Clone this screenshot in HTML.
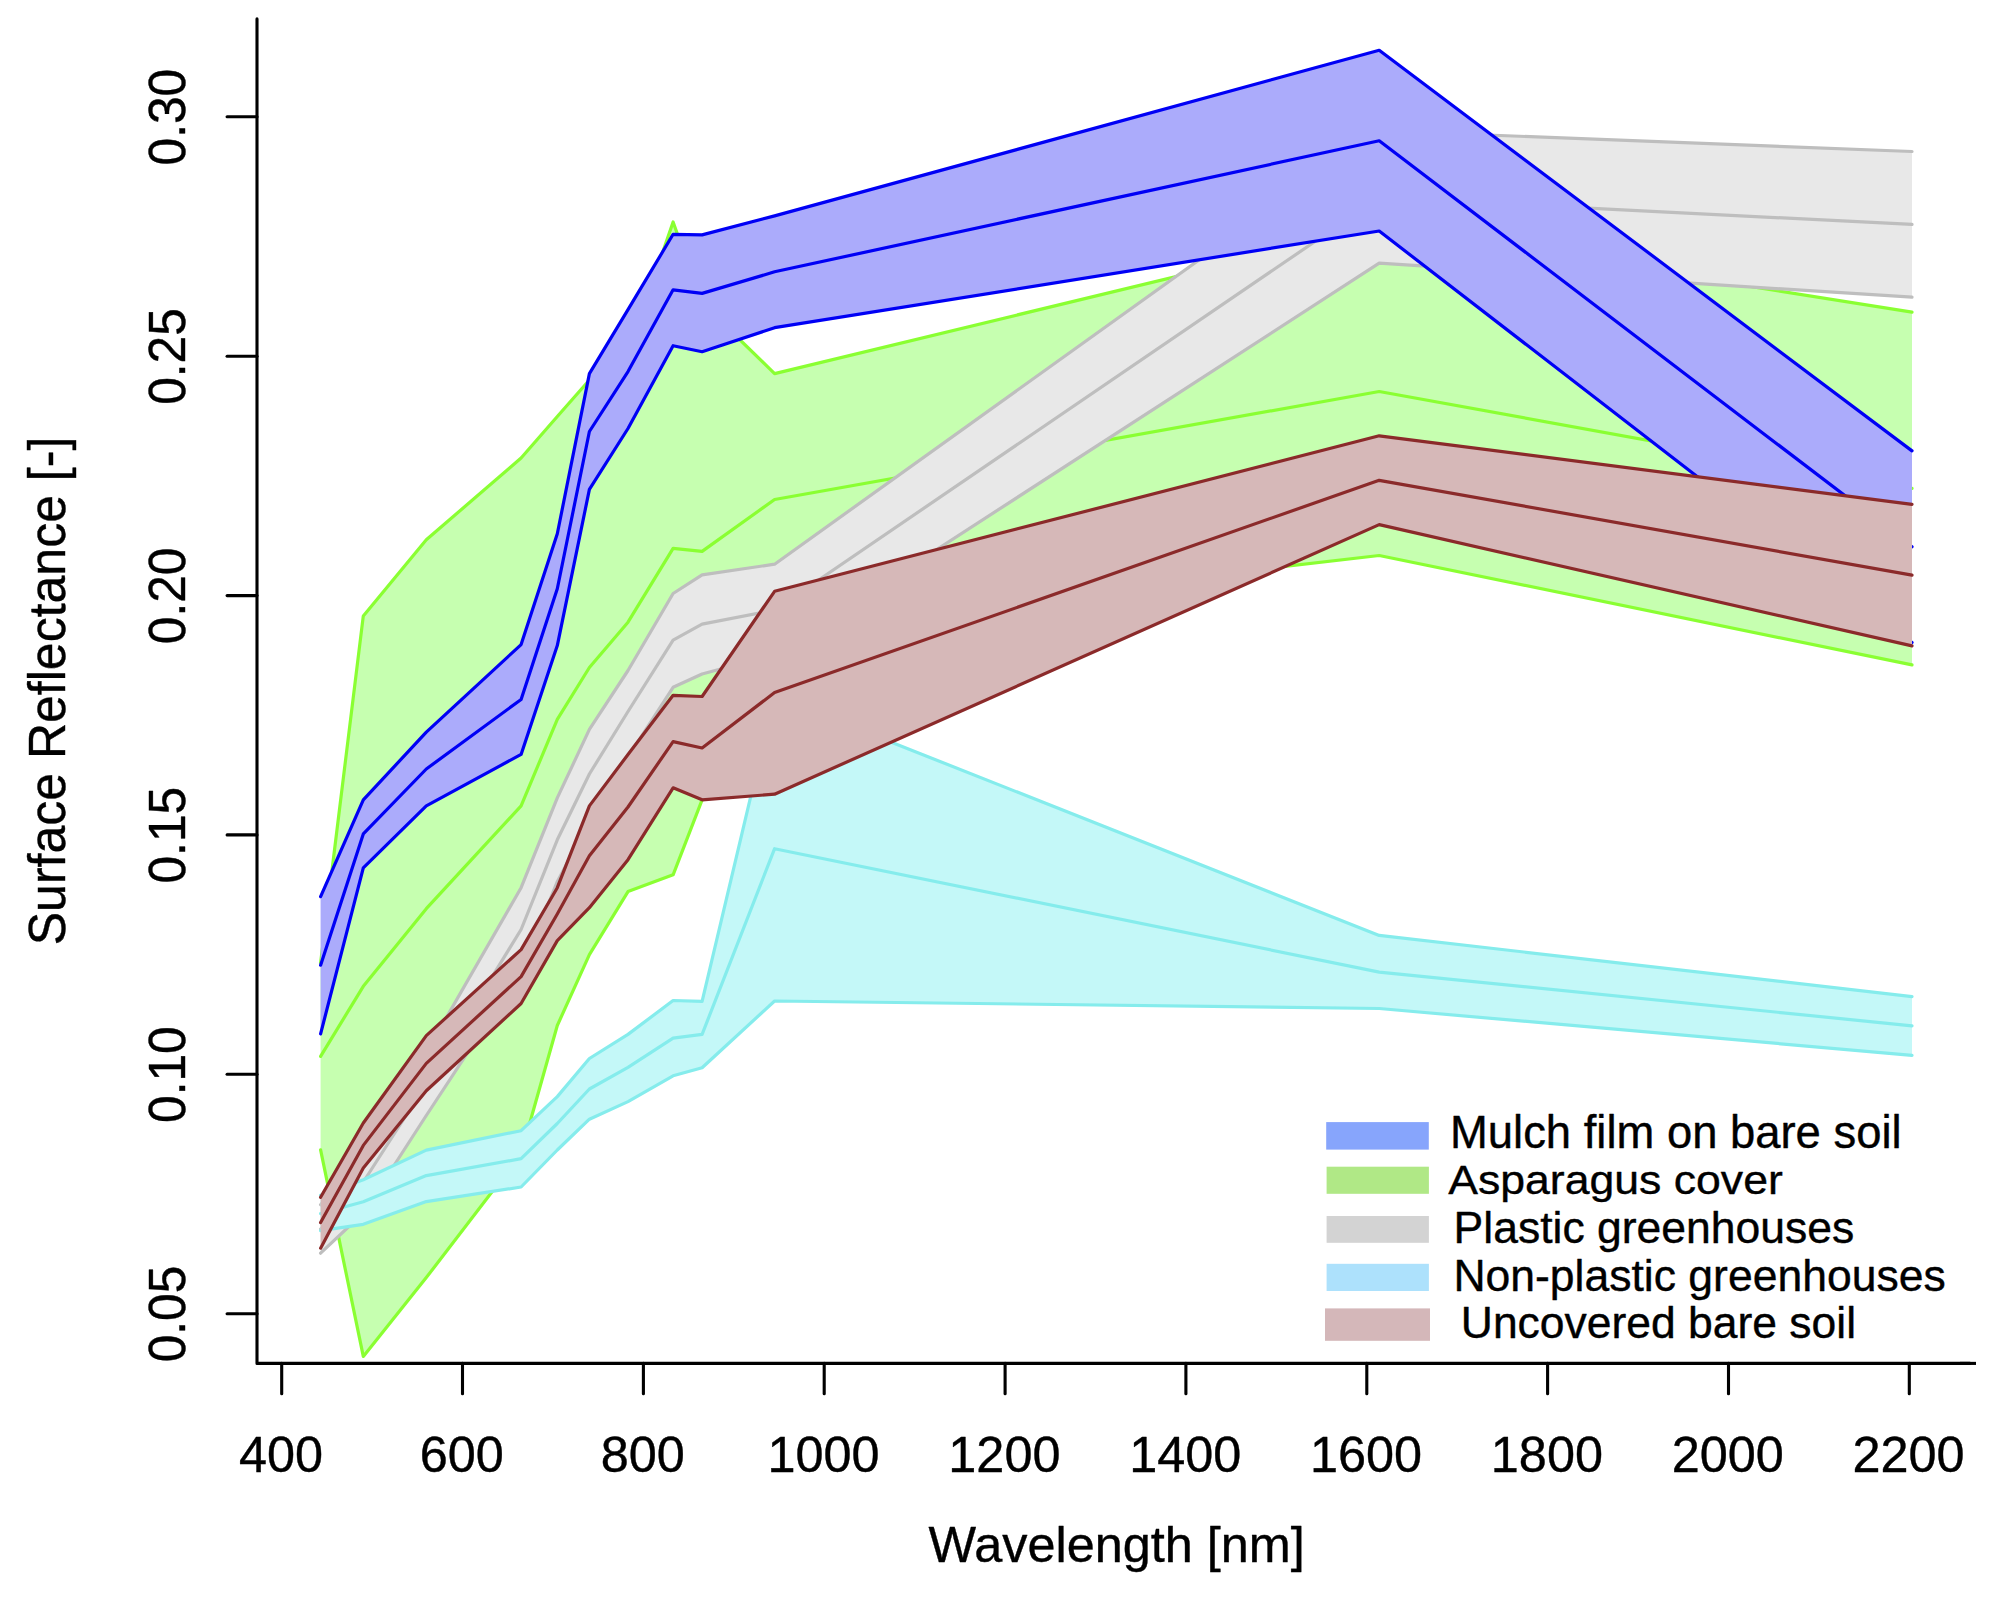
<!DOCTYPE html>
<html lang="en">
<head>
<meta charset="utf-8">
<title>Surface reflectance spectra</title>
<style>
html,body{margin:0;padding:0;background:#fff;}
body{width:2004px;height:1604px;overflow:hidden;}
svg{display:block;}
text{font-family:"Liberation Sans",Arial,Helvetica,sans-serif;fill:#000;stroke:#000;stroke-width:0.4px;stroke-linejoin:round;}
.xt{font-size:50.4px;}
.yt{font-size:49.7px;}
.xl{font-size:50.4px;}
.yl{font-size:50.0px;}
.ln{fill:none;stroke-linecap:round;stroke-linejoin:round;}
.axl{fill:none;stroke:#000;stroke-width:3.1;stroke-linecap:round;stroke-linejoin:round;}
</style>
</head>
<body>
<svg width="2004" height="1604" viewBox="0 0 2004 1604">
<rect x="0" y="0" width="2004" height="1604" fill="#ffffff"/>

<g id="green">
<polygon points="320.6,962.9 363.3,615.9 426.3,539.8 521.1,458.0 557.3,416.5 589.4,380.0 628.0,353.0 673.1,222.0 702.1,303.0 774.6,373.6 1379.2,227.5 1912.0,312.2 1912.0,664.9 1379.2,555.5 774.6,626.0 702.1,799.8 673.1,874.8 628.0,891.6 589.4,954.6 557.3,1025.5 521.1,1153.8 426.3,1277.6 363.3,1356.4 320.6,1149.9" fill="#C6FFB0" stroke="none"/>
<polyline class="ln" points="320.6,962.9 363.3,615.9 426.3,539.8 521.1,458.0 557.3,416.5 589.4,380.0 628.0,353.0 673.1,222.0 702.1,303.0 774.6,373.6 1379.2,227.5 1912.0,312.2" stroke="#8AFF32" stroke-width="3.2"/>
<polyline class="ln" points="320.6,1056.4 363.3,986.3 426.3,908.7 521.1,805.9 557.3,719.4 589.4,667.5 628.0,622.2 673.1,548.3 702.1,551.4 774.6,499.5 1379.2,391.5 1912.0,488.4" stroke="#8AFF32" stroke-width="3.2"/>
<polyline class="ln" points="320.6,1149.9 363.3,1356.4 426.3,1277.6 521.1,1153.8 557.3,1025.5 589.4,954.6 628.0,891.6 673.1,874.8 702.1,799.8 774.6,626.0 1379.2,555.5 1912.0,664.9" stroke="#8AFF32" stroke-width="3.2"/>
</g>
<g id="grey">
<polygon points="320.6,1204.8 363.3,1151.0 426.3,1052.4 521.1,887.7 557.3,797.9 589.4,729.4 628.0,670.5 673.1,593.5 702.1,574.8 774.6,564.2 1379.2,130.8 1912.0,151.5 1912.0,297.2 1379.2,263.2 774.6,654.5 702.1,674.0 673.1,687.3 628.0,757.0 589.4,821.0 557.3,881.7 521.1,971.3 426.3,1115.5 363.3,1213.0 320.6,1253.2" fill="#E8E8E8" stroke="none"/>
<polyline class="ln" points="320.6,1204.8 363.3,1151.0 426.3,1052.4 521.1,887.7 557.3,797.9 589.4,729.4 628.0,670.5 673.1,593.5 702.1,574.8 774.6,564.2 1379.2,130.8 1912.0,151.5" stroke="#BEBEBE" stroke-width="3.2"/>
<polyline class="ln" points="320.6,1229.0 363.3,1182.0 426.3,1084.0 521.1,929.5 557.3,839.8 589.4,774.0 628.0,711.5 673.1,640.1 702.1,624.1 774.6,610.0 1379.2,197.7 1912.0,224.4" stroke="#BEBEBE" stroke-width="3.2"/>
<polyline class="ln" points="320.6,1253.2 363.3,1213.0 426.3,1115.5 521.1,971.3 557.3,881.7 589.4,821.0 628.0,757.0 673.1,687.3 702.1,674.0 774.6,654.5 1379.2,263.2 1912.0,297.2" stroke="#BEBEBE" stroke-width="3.2"/>
</g>
<g id="blue">
<polygon points="320.6,896.7 363.3,799.9 426.3,732.1 521.1,644.6 557.3,533.8 589.4,373.6 628.0,309.7 673.1,234.3 702.1,234.9 774.6,215.9 1379.2,50.3 1912.0,450.9 1912.0,642.5 1379.2,231.0 774.6,327.7 702.1,351.7 673.1,345.7 628.0,428.5 589.4,489.4 557.3,645.6 521.1,754.4 426.3,805.9 363.3,867.8 320.6,1033.9" fill="#ABABFB" stroke="none"/>
<polyline class="ln" points="320.6,896.7 363.3,799.9 426.3,732.1 521.1,644.6 557.3,533.8 589.4,373.6 628.0,309.7 673.1,234.3 702.1,234.9 774.6,215.9 1379.2,50.3 1912.0,450.9" stroke="#0000F5" stroke-width="3.2"/>
<polyline class="ln" points="320.6,965.2 363.3,833.9 426.3,769.0 521.1,699.5 557.3,588.7 589.4,431.5 628.0,371.6 673.1,289.8 702.1,293.4 774.6,271.8 1379.2,140.8 1912.0,546.7" stroke="#0000F5" stroke-width="3.2"/>
<polyline class="ln" points="320.6,1033.9 363.3,867.8 426.3,805.9 521.1,754.4 557.3,645.6 589.4,489.4 628.0,428.5 673.1,345.7 702.1,351.7 774.6,327.7 1379.2,231.0 1912.0,642.5" stroke="#0000F5" stroke-width="3.2"/>
</g>
<g id="cyan">
<polygon points="320.6,1195.3 363.3,1179.8 426.3,1150.1 521.1,1130.7 557.3,1096.6 589.4,1058.5 628.0,1034.4 673.1,1000.5 702.1,1001.4 774.6,696.0 1379.2,935.4 1912.0,996.6 1912.0,1055.3 1379.2,1008.5 774.6,1001.0 702.1,1067.7 673.1,1075.8 628.0,1101.6 589.4,1119.2 557.3,1150.0 521.1,1187.0 426.3,1201.6 363.3,1224.3 320.6,1230.7" fill="#C4F8F8" stroke="none"/>
<polyline class="ln" points="320.6,1195.3 363.3,1179.8 426.3,1150.1 521.1,1130.7 557.3,1096.6 589.4,1058.5 628.0,1034.4 673.1,1000.5 702.1,1001.4 774.6,696.0 1379.2,935.4 1912.0,996.6" stroke="#85ECEC" stroke-width="3.2"/>
<polyline class="ln" points="320.6,1213.5 363.3,1201.8 426.3,1175.6 521.1,1158.7 557.3,1123.5 589.4,1089.0 628.0,1067.3 673.1,1038.1 702.1,1034.4 774.6,848.7 1379.2,972.1 1912.0,1025.8" stroke="#85ECEC" stroke-width="3.2"/>
<polyline class="ln" points="320.6,1230.7 363.3,1224.3 426.3,1201.6 521.1,1187.0 557.3,1150.0 589.4,1119.2 628.0,1101.6 673.1,1075.8 702.1,1067.7 774.6,1001.0 1379.2,1008.5 1912.0,1055.3" stroke="#85ECEC" stroke-width="3.2"/>
</g>
<g id="brown">
<polygon points="320.6,1197.3 363.3,1123.0 426.3,1035.6 521.1,949.6 557.3,887.7 589.4,805.9 628.0,754.5 673.1,695.3 702.1,696.5 774.6,591.3 1379.2,435.8 1912.0,504.4 1912.0,645.9 1379.2,524.6 774.6,794.2 702.1,799.8 673.1,787.8 628.0,859.7 589.4,907.7 557.3,940.6 521.1,1003.5 426.3,1090.8 363.3,1167.9 320.6,1248.2" fill="#D6B8B8" stroke="none"/>
<polyline class="ln" points="320.6,1197.3 363.3,1123.0 426.3,1035.6 521.1,949.6 557.3,887.7 589.4,805.9 628.0,754.5 673.1,695.3 702.1,696.5 774.6,591.3 1379.2,435.8 1912.0,504.4" stroke="#8B2A2A" stroke-width="3.2"/>
<polyline class="ln" points="320.6,1222.6 363.3,1145.4 426.3,1063.4 521.1,976.6 557.3,914.0 589.4,855.8 628.0,807.0 673.1,741.6 702.1,748.0 774.6,692.5 1379.2,480.3 1912.0,575.2" stroke="#8B2A2A" stroke-width="3.2"/>
<polyline class="ln" points="320.6,1248.2 363.3,1167.9 426.3,1090.8 521.1,1003.5 557.3,940.6 589.4,907.7 628.0,859.7 673.1,787.8 702.1,799.8 774.6,794.2 1379.2,524.6 1912.0,645.9" stroke="#8B2A2A" stroke-width="3.2"/>
</g>
<polyline class="axl" points="257.0,18.9 257.0,1363.4 1970,1363.4"/>
<line class="axl" style="stroke-linecap:butt" x1="1960" y1="1363.4" x2="1976" y2="1363.4"/>
<line class="axl" x1="281.7" y1="1363.4" x2="281.7" y2="1393.8"/>
<text class="xt" x="281.0" y="1472.2" text-anchor="middle">400</text>
<line class="axl" x1="462.5" y1="1363.4" x2="462.5" y2="1393.8"/>
<text class="xt" x="461.8" y="1472.2" text-anchor="middle">600</text>
<line class="axl" x1="643.4" y1="1363.4" x2="643.4" y2="1393.8"/>
<text class="xt" x="642.7" y="1472.2" text-anchor="middle">800</text>
<line class="axl" x1="824.2" y1="1363.4" x2="824.2" y2="1393.8"/>
<text class="xt" x="823.5" y="1472.2" text-anchor="middle">1000</text>
<line class="axl" x1="1005.1" y1="1363.4" x2="1005.1" y2="1393.8"/>
<text class="xt" x="1004.4" y="1472.2" text-anchor="middle">1200</text>
<line class="axl" x1="1185.9" y1="1363.4" x2="1185.9" y2="1393.8"/>
<text class="xt" x="1185.2" y="1472.2" text-anchor="middle">1400</text>
<line class="axl" x1="1366.8" y1="1363.4" x2="1366.8" y2="1393.8"/>
<text class="xt" x="1366.1" y="1472.2" text-anchor="middle">1600</text>
<line class="axl" x1="1547.6" y1="1363.4" x2="1547.6" y2="1393.8"/>
<text class="xt" x="1546.9" y="1472.2" text-anchor="middle">1800</text>
<line class="axl" x1="1728.5" y1="1363.4" x2="1728.5" y2="1393.8"/>
<text class="xt" x="1727.8" y="1472.2" text-anchor="middle">2000</text>
<line class="axl" x1="1909.3" y1="1363.4" x2="1909.3" y2="1393.8"/>
<text class="xt" x="1908.6" y="1472.2" text-anchor="middle">2200</text>
<line class="axl" x1="227.1" y1="1313.7" x2="257.0" y2="1313.7"/>
<text class="yt" transform="translate(185.4,1314.0) rotate(-90) scale(1,1.04)" text-anchor="middle">0.05</text>
<line class="axl" x1="227.1" y1="1074.3" x2="257.0" y2="1074.3"/>
<text class="yt" transform="translate(185.4,1074.6) rotate(-90) scale(1,1.04)" text-anchor="middle">0.10</text>
<line class="axl" x1="227.1" y1="834.9" x2="257.0" y2="834.9"/>
<text class="yt" transform="translate(185.4,835.2) rotate(-90) scale(1,1.04)" text-anchor="middle">0.15</text>
<line class="axl" x1="227.1" y1="595.6" x2="257.0" y2="595.6"/>
<text class="yt" transform="translate(185.4,595.9) rotate(-90) scale(1,1.04)" text-anchor="middle">0.20</text>
<line class="axl" x1="227.1" y1="356.2" x2="257.0" y2="356.2"/>
<text class="yt" transform="translate(185.4,356.5) rotate(-90) scale(1,1.04)" text-anchor="middle">0.25</text>
<line class="axl" x1="227.1" y1="116.8" x2="257.0" y2="116.8"/>
<text class="yt" transform="translate(185.4,117.1) rotate(-90) scale(1,1.04)" text-anchor="middle">0.30</text>
<text class="xl" x="1116.7" y="1562" text-anchor="middle">Wavelength [nm]</text>
<text class="yl" transform="translate(65.2,691.0) rotate(-90) scale(1,1.02)" text-anchor="middle">Surface Reflectance [-]</text>
<rect x="1326.2" y="1122.1" width="102.6" height="27.5" fill="#87A5FC"/>
<text transform="translate(1450.0,1147.8) scale(1,1.0)" font-size="45.4">Mulch film on bare soil</text>
<rect x="1326.6" y="1166.7" width="102.3" height="27.1" fill="#B0E886"/>
<text transform="translate(1448.2,1193.8) scale(1,0.895)" font-size="44.6">Asparagus cover</text>
<rect x="1326.6" y="1216.0" width="102.3" height="26.8" fill="#D3D3D3"/>
<text transform="translate(1453.6,1242.8) scale(1,1.0)" font-size="44.5">Plastic greenhouses</text>
<rect x="1326.6" y="1263.8" width="102.3" height="27.2" fill="#ADE1FC"/>
<text transform="translate(1453.4,1290.9) scale(1,1.0)" font-size="44.5">Non-plastic greenhouses</text>
<rect x="1325.0" y="1308.4" width="105.0" height="32.4" fill="#D4B7B9"/>
<text transform="translate(1460.8,1338.0) scale(1,1.0)" font-size="44.45">Uncovered bare soil</text>
</svg>
</body>
</html>
